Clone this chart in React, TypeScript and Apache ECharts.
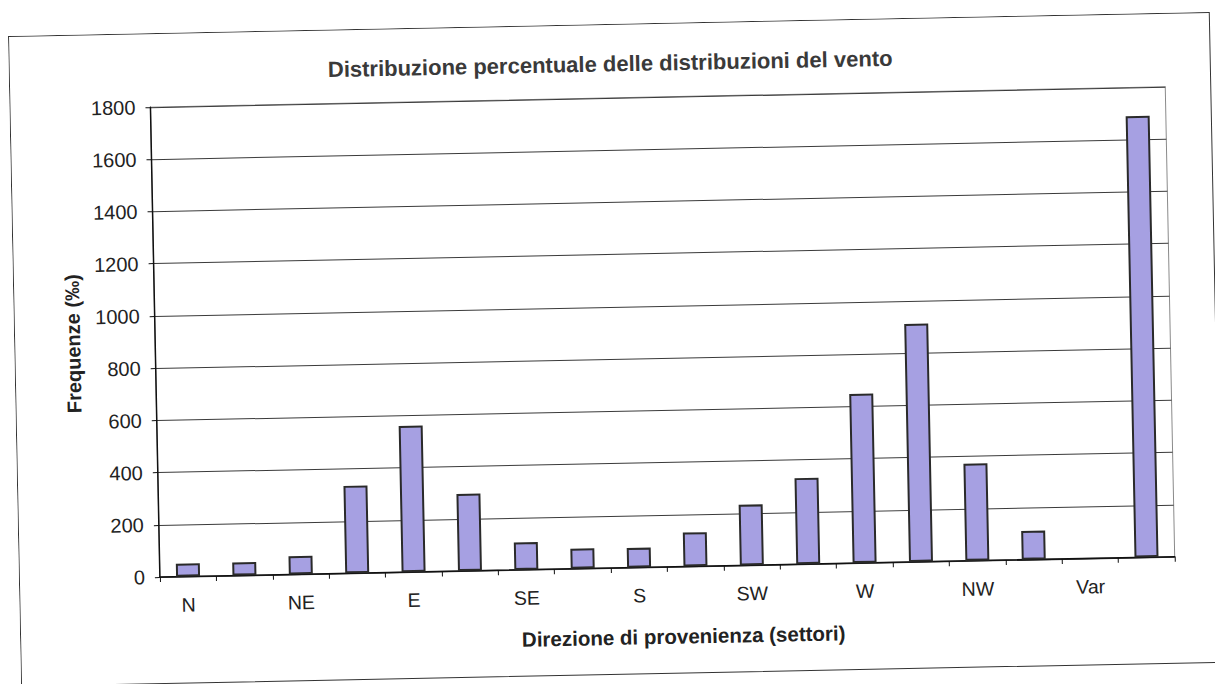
import React, { useEffect, useRef } from "react";
import * as echarts from "echarts";

const categories = ["N", "NNE", "NE", "ENE", "E", "ESE", "SE", "SSE", "S", "SSW", "SW", "WSW", "W", "WNW", "NW", "NNW", "Var", "Calma"];
const values: (number | null)[] = [50, 50, 70, 335, 560, 295, 105, 77, 75, 130, 232, 330, 648, 912, 372, 110, null, 1690];
const yMin = 0;
const yMax = 1800;
const yStep = 200;

const titleText = "Distribuzione percentuale delle distribuzioni del vento";
const xName = "Direzione di provenienza (settori)";
const yName = "Frequenze (‰)";

const FONT = "'Liberation Sans', Arial, Helvetica, sans-serif";
const W = 1203;
const H = 652;

export default function App() {
  const ref = useRef<HTMLDivElement>(null);

  useEffect(() => {
    if (!ref.current) return;
    const chart = echarts.init(ref.current, null, { renderer: "svg" });
    chart.setOption({
      animation: false,
      backgroundColor: "#ffffff",
      title: {
        text: titleText,
        left: "center",
        top: 24,
        textStyle: { fontFamily: FONT, fontSize: 22, fontWeight: "bold", color: "#3a3a3a" },
      },
      graphic: [
        {
          type: "rect",
          shape: { x: 0.5, y: 0.5, width: W - 2, height: H - 2 },
          style: { fill: "none", stroke: "#333", lineWidth: 1 },
          silent: true,
        },
      ],
      grid: {
        left: 141,
        top: 74,
        width: 1015,
        height: 470,
        show: true,
        borderColor: "#8a8a8a",
        borderWidth: 1,
        containLabel: false,
      },
      xAxis: {
        type: "category",
        data: categories,
        boundaryGap: true,
        name: xName,
        nameLocation: "middle",
        nameGap: 59,
        nameTextStyle: { fontFamily: FONT, fontSize: 20.5, fontWeight: "bold", color: "#222", padding: [0, 0, 0, 30] },
        axisLine: { show: true, lineStyle: { color: "#111", width: 1.5 } },
        axisTick: { show: true, interval: 0, length: 5, inside: false, lineStyle: { color: "#111", width: 1 } },
        axisLabel: { interval: 1, margin: 18, fontFamily: FONT, fontSize: 19.5, color: "#222" },
        splitLine: { show: false },
      },
      yAxis: {
        type: "value",
        min: yMin,
        max: yMax,
        interval: yStep,
        name: yName,
        nameLocation: "middle",
        nameGap: 72,
        nameRotate: 90,
        nameTextStyle: { fontFamily: FONT, fontSize: 20, fontWeight: "bold", color: "#222" },
        axisLine: { show: true, lineStyle: { color: "#111", width: 1.5 } },
        axisTick: { show: true, length: 5, inside: false, lineStyle: { color: "#111", width: 1 } },
        axisLabel: {
          margin: 15,
          fontFamily: FONT,
          fontSize: 20,
          color: "#222",
          formatter: (v: number) => String(v),
        },
        splitLine: { show: true, lineStyle: { color: "#3a3a3a", width: 1 } },
      },
      series: [
        {
          type: "bar",
          data: values,
          barWidth: 24,
          itemStyle: { color: "#a6a0e2", borderColor: "#2a2a2a", borderWidth: 2 },
        },
      ],
    });
    return () => chart.dispose();
  }, []);

  return (
    <div style={{ position: "fixed", left: 0, top: 0, width: 1215, height: 684, background: "#fff", overflow: "hidden" }}>
      <div
        ref={ref}
        style={{
          position: "absolute",
          left: 8,
          top: 36,
          width: W,
          height: H,
          transform: "rotate(-1.15deg)",
          transformOrigin: "0 0",
        }}
      />
    </div>
  );
}
